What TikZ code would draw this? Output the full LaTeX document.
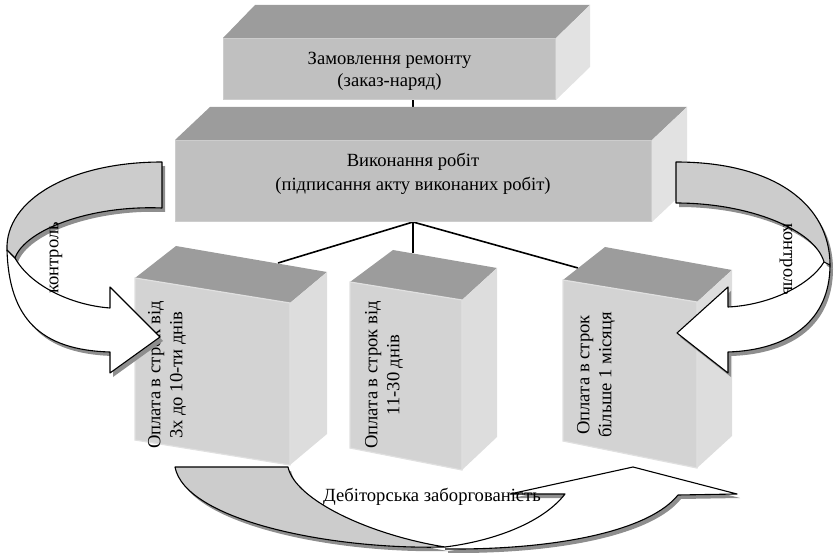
\documentclass[tikz,border=0pt]{standalone}
\usepackage{fontspec}
\setmainfont{Liberation Serif}
\definecolor{topf}{HTML}{9C9C9C}
\definecolor{frontA}{HTML}{C0C0C0}
\definecolor{sideA}{HTML}{E2E2E2}
\definecolor{frontL}{HTML}{D3D3D3}
\definecolor{sideL}{HTML}{DDDDDD}
\definecolor{bevel}{HTML}{CDCDCD}
\definecolor{bevelL}{HTML}{E0E0E0}
\definecolor{band}{HTML}{CCCCCC}
\definecolor{shad}{HTML}{8E8E8E}
\tikzset{
  lbl/.style={font=\fontsize{18.6}{22}\selectfont, align=center, inner sep=0pt},
  conn/.style={line width=1.6pt, black},
  outl/.style={draw=black, line width=1.1pt, line join=round},
}
\begin{document}
\begin{tikzpicture}[x=1pt,y=-1pt]
\useasboundingbox (0,0) rectangle (835,553);

% connector end points
\coordinate (aout) at (413,100);
\coordinate (bin) at (413,107);
\coordinate (bout) at (413,222);
\coordinate (cin) at (278,263);
\coordinate (din) at (413,253);
\coordinate (ein) at (578,268);

\draw[conn] (aout) -- (bin);
\draw[conn] (bout) -- (cin);
\draw[conn] (bout) -- (din);
\draw[conn] (bout) -- (ein);

% ---- top box
\fill[topf] (223,38) -- (255,5) -- (590,5) -- (556,38) -- cycle;
\fill[sideA] (556,38) -- (590,5) -- (590,67) -- (556,100) -- cycle;
\fill[frontA, draw=bevel, line width=1.2pt] (223.6,38.6) rectangle (555.4,99.4);
\node[lbl] (a) at (389.5,71) {Замовлення ремонту\\(заказ-наряд)};

% ---- second box
\fill[topf] (175,140) -- (210,107) -- (687,107) -- (652,140) -- cycle;
\fill[sideA] (652,140) -- (687,107) -- (687,189) -- (652,222) -- cycle;
\fill[frontA, draw=bevel, line width=1.2pt] (175.6,140.6) rectangle (651.4,221.4);
\node[lbl, font=\fontsize{18.6}{24}\selectfont] (b) at (413,174) {Виконання робіт\\(підписання акту виконаних робіт)};

% ---- lower boxes
\fill[topf] (135,278) -- (176,246) -- (327,272) -- (290,303) -- cycle;
\fill[sideL] (290,303) -- (327,272) -- (327,434) -- (290,465) -- cycle;
\fill[frontL, draw=bevelL, line width=1.2pt] (135,278) -- (290,303) -- (290,465) -- (135,440) -- cycle;
\node[lbl, rotate=90] (c) at (167,375) {Оплата в строк від\\3х до 10-ти днів};

\fill[topf] (350,282) -- (393,250) -- (497,268) -- (462,300) -- cycle;
\fill[sideL] (462,300) -- (497,268) -- (497,437) -- (462,470) -- cycle;
\fill[frontL, draw=bevelL, line width=1.2pt] (350,282) -- (462,300) -- (462,470) -- (350,448) -- cycle;
\node[lbl, rotate=90] (d) at (384,375) {Оплата в строк від\\11-30 днів};

\fill[topf] (563,280) -- (605,247) -- (732,270) -- (697,302) -- cycle;
\fill[sideL] (697,302) -- (732,270) -- (732,436) -- (697,468) -- cycle;
\fill[frontL, draw=bevelL, line width=1.2pt] (563,280) -- (697,302) -- (697,468) -- (563,441) -- cycle;
\node[lbl, rotate=90] (e) at (596,375) {Оплата в строк\\більше 1 місяця};

% ---- left control arrow
\begin{scope}[shift={(3,4)}]
  \fill[shad] (15,258) .. controls (30,285) and (70,305) .. (110,308) -- (110,287) -- (160,337) -- (110,373) -- (110,352) .. controls (40,350) and (9,318) .. (7,250) -- cycle;
\end{scope}
\fill[white] (15,258) .. controls (30,285) and (70,305) .. (110,308) -- (110,287) -- (160,337) -- (110,373) -- (110,352) .. controls (40,350) and (9,318) .. (7,250) -- cycle;
\begin{scope}[shift={(3,4)}]
  \fill[shad] (162,162) .. controls (70,162) and (5,200) .. (7,250) -- (15,258) .. controls (25,230) and (90,205) .. (162,208) -- cycle;
\end{scope}
\fill[band] (162,162) .. controls (70,162) and (5,200) .. (7,250) -- (15,258) .. controls (25,230) and (90,205) .. (162,208) -- cycle;
\draw[outl] (15,258) .. controls (30,285) and (70,305) .. (110,308) -- (110,287) -- (160,337) -- (110,373) -- (110,352) .. controls (40,350) and (9,318) .. (7,250);
\draw[outl] (162,162) .. controls (70,162) and (5,200) .. (7,250) -- (15,258) .. controls (25,230) and (90,205) .. (162,208) -- cycle;
\node[lbl, rotate=90] (k1) at (56,258) {контроль};

% ---- right control arrow
\begin{scope}[shift={(3,4)}]
  \fill[shad] (824,262) .. controls (810,285) and (770,305) .. (728,307) -- (728,287) -- (677,333) -- (728,373) -- (728,352) .. controls (790,350) and (830,320) .. (830,265) -- cycle;
\end{scope}
\fill[white] (824,262) .. controls (810,285) and (770,305) .. (728,307) -- (728,287) -- (677,333) -- (728,373) -- (728,352) .. controls (790,350) and (830,320) .. (830,265) -- cycle;
\begin{scope}[shift={(3,4)}]
  \fill[shad] (676,162) .. controls (775,162) and (830,205) .. (830,265) -- (824,262) .. controls (815,230) and (750,203) .. (676,203) -- cycle;
\end{scope}
\fill[band] (676,162) .. controls (775,162) and (830,205) .. (830,265) -- (824,262) .. controls (815,230) and (750,203) .. (676,203) -- cycle;
\draw[outl] (824,262) .. controls (810,285) and (770,305) .. (728,307) -- (728,287) -- (677,333) -- (728,373) -- (728,352) .. controls (790,350) and (830,320) .. (830,265);
\draw[outl] (676,162) .. controls (775,162) and (830,205) .. (830,265) -- (824,262) .. controls (815,230) and (750,203) .. (676,203) -- cycle;
\node[lbl, rotate=-90] (k2) at (786,259) {контроль};

% ---- bottom arrow (receivables)
\begin{scope}[shift={(3,4)}]
  \fill[shad] (445,547) .. controls (500,540) and (545,520) .. (565,494) -- (510,494) -- (633,467) -- (737,494) -- (678,495) .. controls (650,530) and (560,550) .. (445,549) -- cycle;
  \fill[shad] (175,467) -- (288,467) .. controls (295,500) and (370,535) .. (445,547) .. controls (330,550) and (185,520) .. (175,467) -- cycle;
\end{scope}
\fill[white] (445,547) .. controls (500,540) and (545,520) .. (565,494) -- (510,494) -- (633,467) -- (737,494) -- (678,495) .. controls (650,530) and (560,550) .. (445,549) -- cycle;
\fill[band] (175,467) -- (288,467) .. controls (295,500) and (370,535) .. (445,547) .. controls (330,550) and (185,520) .. (175,467) -- cycle;
\draw[outl] (445,547) .. controls (500,540) and (545,520) .. (565,494) -- (510,494) -- (633,467) -- (737,494) -- (678,495) .. controls (650,530) and (560,550) .. (445,549);
\draw[outl] (175,467) -- (288,467) .. controls (295,500) and (370,535) .. (445,547) .. controls (330,550) and (185,520) .. (175,467) -- cycle;
\node[lbl] (deb) at (432,497) {Дебіторська заборгованість};
\end{tikzpicture}
\end{document}
